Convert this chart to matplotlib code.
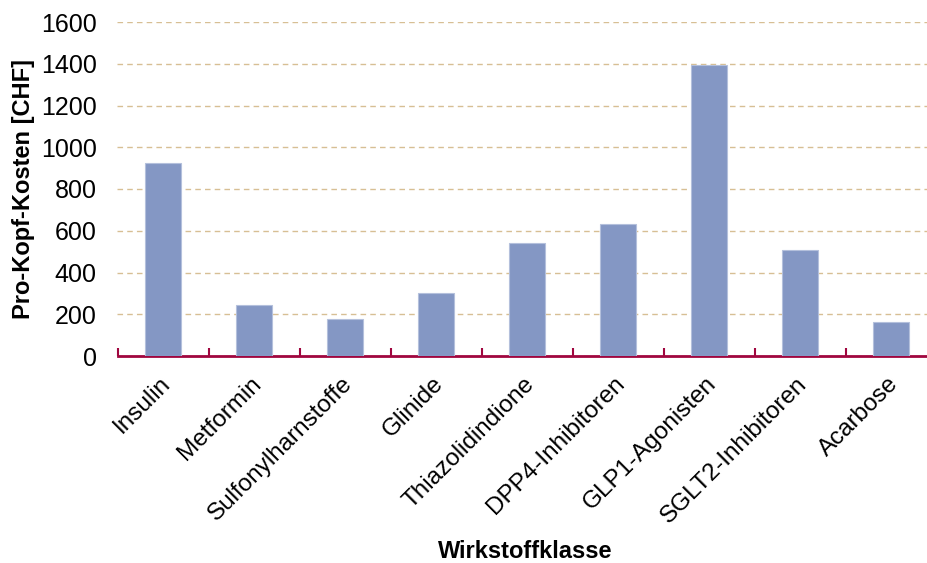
import matplotlib
matplotlib.use("Agg")
import matplotlib.pyplot as plt
import matplotlib.transforms as mtransforms
import numpy as np

plt.rcParams['font.family'] = ['Liberation Sans', 'DejaVu Sans']

klassen = ['Insulin', 'Metformin', 'Sulfonylharnstoffe', 'Glinide', 'Thiazolidindione',
           'DPP4-Inhibitoren', 'GLP1-Agonisten', 'SGLT2-Inhibitoren', 'Acarbose']
kosten = [925, 246, 179, 302, 541, 632, 1394, 508, 164]
yticks = [0, 200, 400, 600, 800, 1000, 1200, 1400, 1600]

fig = plt.figure(figsize=(9.28, 5.63), dpi=100)
ax = fig.add_axes([117.5 / 928, 207 / 563, 819 / 928, 334 / 563])

x = np.arange(len(klassen))
ax.bar(x, kosten, width=0.4, color='#8497C4', edgecolor='#B4C0DC', linewidth=0.8, zorder=3)

ax.set_xlim(-0.5, len(klassen) - 0.5)
ax.set_ylim(0, 1600)
ax.set_yticks(yticks)
ax.set_yticklabels([str(v) for v in yticks], fontsize=18)
ax.yaxis.grid(True, linestyle=(0, (4, 3)), color='#D7BF94', linewidth=1, zorder=0)
ax.tick_params(axis='y', length=0, pad=15)

for s in ['top', 'right', 'left']:
    ax.spines[s].set_visible(False)
ax.spines['bottom'].set_color('#A0063F')
ax.spines['bottom'].set_linewidth(2)

# category boundaries as small ticks above the axis
ax.set_xticks(np.arange(len(klassen) + 1) - 0.5, minor=True)
ax.tick_params(axis='x', which='minor', direction='in', length=6, width=1.5, color='#A0063F')
ax.set_xticks(x)
ax.set_xticklabels(klassen, rotation=45, ha='right', rotation_mode='anchor', fontsize=17.5)
ax.tick_params(axis='x', which='major', length=0, pad=12)
shift = mtransforms.ScaledTranslation(-4 / 100, 0, fig.dpi_scale_trans)
for lab in ax.get_xticklabels():
    lab.set_transform(lab.get_transform() + shift)

ax.set_ylabel('Pro-Kopf-Kosten [CHF]', fontsize=17, fontweight='bold', labelpad=4)
fig.text(525.5 / 928, 1 - 558 / 563, 'Wirkstoffklasse', fontsize=17, fontweight='bold',
         ha='center', va='baseline')

fig.savefig('out.png', dpi=100)
